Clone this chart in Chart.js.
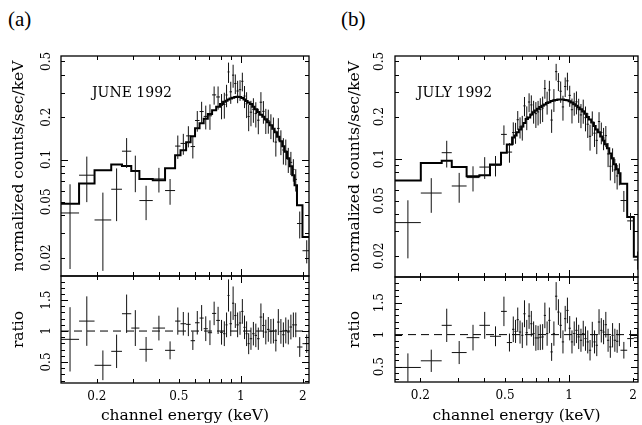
<!DOCTYPE html>
<html lang="en">
<head>
<meta charset="UTF-8">
<title>Spectra, June and July 1992</title>
<script src="https://cdn.jsdelivr.net/npm/chart.js@4.4.1/dist/chart.umd.min.js"></script>
<style>
  html, body { margin: 0; padding: 0; background: #fff; }
  #wrap { position: relative; width: 642px; height: 425px; overflow: hidden; }
  #wrap canvas { position: absolute; }
  .tag { position: absolute; font-family: "Liberation Serif", serif; font-size: 21px; line-height: 1; color: #000; }
</style>
</head>
<body>
<div id="wrap">
  <div class="tag" style="left:8px;top:9px">(a)</div>
  <div class="tag" style="left:341px;top:9px">(b)</div>
  <canvas id="specA" width="320" height="280" style="left:0;top:0"></canvas>
  <canvas id="ratioA" width="320" height="155" style="left:0;top:270px"></canvas>
  <canvas id="specB" width="308" height="280" style="left:334px;top:0"></canvas>
  <canvas id="ratioB" width="308" height="155" style="left:334px;top:270px"></canvas>
</div>

<script>
// ---- June 1992 (a): bin edges (keV), model, counts, ratio ----
const edgesA = [0.134, 0.164, 0.195, 0.235, 0.265, 0.294, 0.322, 0.374, 0.429, 0.480,
  0.510, 0.543, 0.571, 0.600, 0.631, 0.661, 0.692, 0.726, 0.760, 0.793,
  0.821, 0.844, 0.863, 0.882, 0.907, 0.930, 0.953, 0.979, 1.006, 1.031,
  1.056, 1.080, 1.106, 1.137, 1.168, 1.200, 1.235, 1.272, 1.306, 1.342,
  1.381, 1.422, 1.461, 1.501, 1.545, 1.590, 1.633, 1.678, 1.727, 1.778,
  1.826, 1.876, 1.995, 2.194];
const modelA = [0.0485, 0.0674, 0.0839, 0.0921, 0.0899, 0.0829, 0.0727, 0.0712, 0.0867,
  0.1073, 0.1165, 0.1329, 0.1466, 0.1672, 0.1815, 0.1954, 0.2105, 0.2246, 0.2380,
  0.2480, 0.2583, 0.2618, 0.2670, 0.2714, 0.2750, 0.2782, 0.2796, 0.2782, 0.2737,
  0.2670, 0.2605, 0.2542, 0.2480, 0.2380, 0.2284, 0.2175, 0.2087, 0.2020, 0.1938,
  0.1845, 0.1757, 0.1658, 0.1566, 0.1454, 0.1351, 0.1244, 0.1137, 0.1022, 0.0896,
  0.0773, 0.0656, 0.0472, 0.0281];
const countsA = [0.0416, 0.0773, 0.0371, 0.0614, 0.1146, 0.0825, 0.0510, 0.0727, 0.0601,
  0.1246, 0.1302, 0.1473, 0.1237, 0.1896, 0.2196, 0.2028, 0.2048, 0.2886, 0.2789,
  0.2430, 0.2472, 0.2880, 0.4205, 0.3034, 0.3988, 0.3478, 0.3076, 0.3144, 0.3605,
  0.2830, 0.2493, 0.2023, 0.2172, 0.2278, 0.2124, 0.1905, 0.2559, 0.2202, 0.1907,
  0.1895, 0.1748, 0.1658, 0.1331, 0.1665, 0.1344, 0.1169, 0.1148, 0.1006, 0.0954,
  0.0850, 0.0722, 0.0350, 0.0224];
const countsErrA = [0.0250, 0.0276, 0.0210, 0.0250, 0.0275, 0.0240, 0.0140, 0.0145, 0.0125,
  0.0236, 0.0221, 0.0253, 0.0220, 0.0318, 0.0381, 0.0391, 0.0421, 0.0427, 0.0524,
  0.0496, 0.0517, 0.0524, 0.0694, 0.0543, 0.0743, 0.0556, 0.0559, 0.0529, 0.0547,
  0.0507, 0.0521, 0.0432, 0.0446, 0.0452, 0.0434, 0.0392, 0.0459, 0.0404, 0.0388,
  0.0369, 0.0351, 0.0332, 0.0282, 0.0305, 0.0270, 0.0249, 0.0239, 0.0204, 0.0179,
  0.0155, 0.0131, 0.0076, 0.0042];
const ratioA = [0.866, 1.161, 0.446, 0.672, 1.280, 1.048, 0.704, 1.048, 0.688,
  1.161, 1.118, 1.108, 0.844, 1.134, 1.210, 1.038, 0.973, 1.285, 1.172,
  0.980, 0.957, 1.100, 1.575, 1.118, 1.450, 1.250, 1.100, 1.130, 1.317,
  1.060, 0.957, 0.796, 0.876, 0.957, 0.930, 0.876, 1.226, 1.090, 0.984,
  1.027, 0.995, 1.000, 0.850, 1.145, 0.995, 0.940, 1.010, 0.984, 1.065,
  1.100, 1.100, 0.742, 0.796];
const ratioErrA = [0.52, 0.40, 0.24, 0.27, 0.31, 0.29, 0.20, 0.20, 0.145,
  0.22, 0.19, 0.19, 0.15, 0.19, 0.21, 0.20, 0.20, 0.19, 0.22,
  0.20, 0.20, 0.20, 0.26, 0.20, 0.27, 0.20, 0.20, 0.19, 0.20,
  0.19, 0.20, 0.17, 0.18, 0.19, 0.19, 0.18, 0.22, 0.20, 0.20,
  0.20, 0.20, 0.20, 0.18, 0.21, 0.20, 0.20, 0.21, 0.20, 0.20,
  0.20, 0.20, 0.16, 0.15];

// ---- July 1992 (b) ----
const edgesB = [0.152, 0.201, 0.252, 0.281, 0.330, 0.379, 0.425, 0.479, 0.510, 0.540,
  0.554, 0.567, 0.581, 0.596, 0.610, 0.625, 0.641, 0.657, 0.673, 0.690,
  0.707, 0.724, 0.742, 0.761, 0.779, 0.799, 0.818, 0.839, 0.859, 0.881,
  0.902, 0.925, 0.948, 0.971, 0.995, 1.020, 1.045, 1.071, 1.097, 1.124,
  1.152, 1.181, 1.210, 1.240, 1.271, 1.302, 1.334, 1.367, 1.401, 1.436,
  1.471, 1.508, 1.545, 1.583, 1.622, 1.663, 1.704, 1.746, 1.877, 2.017,
  2.193];
const modelB = [0.0698, 0.0930, 0.0967, 0.0870, 0.0746, 0.0759, 0.0906, 0.1104, 0.1266,
  0.1422, 0.1470, 0.1545, 0.1623, 0.1706, 0.1807, 0.1931, 0.1980, 0.2080, 0.2160,
  0.2222, 0.2286, 0.2347, 0.2398, 0.2454, 0.2511, 0.2549, 0.2596, 0.2622, 0.2639,
  0.2657, 0.2666, 0.2657, 0.2644, 0.2630, 0.2591, 0.2536, 0.2466, 0.2401, 0.2335,
  0.2262, 0.2185, 0.2101, 0.1996, 0.1915, 0.1822, 0.1720, 0.1623, 0.1545, 0.1446,
  0.1353, 0.1267, 0.1186, 0.1091, 0.1005, 0.0910, 0.0838, 0.0784,
  0.0661, 0.0381, 0.0197];
const countsB = [0.0347, 0.0566, 0.1104, 0.0636, 0.0731, 0.0870, 0.0895, 0.1494, 0.1115,
  0.1540, 0.1544, 0.1905, 0.1688, 0.1689, 0.2396, 0.1989, 0.2554, 0.2434, 0.2195,
  0.2106, 0.2167, 0.2251, 0.2312, 0.3190, 0.2551, 0.3117, 0.1895, 0.2664, 0.4222,
  0.3592, 0.3053, 0.2354, 0.3302, 0.3624, 0.2850, 0.2247, 0.2505, 0.2562, 0.2251,
  0.2063, 0.2220, 0.1971, 0.1768, 0.1448, 0.1822, 0.1524, 0.1354, 0.1849, 0.1543,
  0.1407, 0.1463, 0.1082, 0.0882, 0.0995, 0.0830, 0.0751, 0.0784,
  0.0500, 0.0357, 0.0187];
const countsErrB = [0.0155, 0.0158, 0.0240, 0.0154, 0.0150, 0.0155, 0.0150, 0.0240, 0.0180,
  0.0284, 0.0265, 0.0294, 0.0292, 0.0341, 0.0379, 0.0386, 0.0396, 0.0416, 0.0410,
  0.0444, 0.0434, 0.0469, 0.0480, 0.0491, 0.0477, 0.0510, 0.0363, 0.0498, 0.0581,
  0.0531, 0.0533, 0.0478, 0.0529, 0.0526, 0.0492, 0.0456, 0.0469, 0.0480, 0.0444,
  0.0407, 0.0437, 0.0399, 0.0359, 0.0306, 0.0364, 0.0310, 0.0276, 0.0309, 0.0275,
  0.0257, 0.0253, 0.0213, 0.0185, 0.0191, 0.0164, 0.0151, 0.0141,
  0.0086, 0.0050, 0.0028];
const ratioB = [0.487, 0.591, 1.145, 0.720, 0.953, 1.145, 0.974, 1.363, 0.876,
  1.083, 1.050, 1.233, 1.040, 0.990, 1.326, 1.030, 1.290, 1.170, 1.016,
  0.948, 0.948, 0.959, 0.964, 1.300, 1.016, 1.223, 0.730, 1.016, 1.600,
  1.352, 1.145, 0.886, 1.249, 1.378, 1.100, 0.886, 1.016, 1.067, 0.964,
  0.912, 1.016, 0.938, 0.886, 0.756, 1.000, 0.886, 0.834, 1.197, 1.067,
  1.040, 1.155, 0.912, 0.808, 0.990, 0.912, 0.896, 1.000,
  0.756, 0.938, 0.950];
const ratioErrB = [0.22, 0.174, 0.26, 0.18, 0.20, 0.21, 0.155, 0.23, 0.14,
  0.20, 0.18, 0.19, 0.18, 0.20, 0.21, 0.20, 0.20, 0.20, 0.19,
  0.20, 0.19, 0.20, 0.20, 0.20, 0.19, 0.20, 0.14, 0.19, 0.22,
  0.20, 0.20, 0.18, 0.20, 0.20, 0.19, 0.18, 0.19, 0.20, 0.19,
  0.18, 0.20, 0.19, 0.18, 0.16, 0.20, 0.18, 0.17, 0.20, 0.19,
  0.19, 0.20, 0.18, 0.17, 0.19, 0.18, 0.18, 0.18,
  0.13, 0.13, 0.14];

// axis labels and tick marks
const energyLabels = [0.2, 0.5, 1, 2];
const countLabels = [0.02, 0.05, 0.1, 0.2, 0.5];
const ratioLabels = [0.5, 1, 1.5];
const energyMinor = [0.2, 0.3, 0.4, 0.5, 0.6, 0.7, 0.8, 0.9, 2];
const energyMajor = [1];
const countMinor = [0.02, 0.03, 0.04, 0.05, 0.06, 0.07, 0.08, 0.09, 0.2, 0.3, 0.4, 0.5];
const countMajor = [0.1];
const ratioMinor = [0.2, 0.3, 0.4, 0.6, 0.7, 0.8, 0.9, 1.1, 1.2, 1.3, 1.4, 1.6, 1.7, 1.8];
const ratioMajor = [0.5, 1, 1.5];

const SERIF = '"DejaVu Serif", serif';

// error crosses as one broken line: bin width across, error up/down
function crosses(edges, vals, errs) {
  const pts = [];
  vals.forEach((v, i) => {
    const lo = edges[i], hi = edges[i + 1], c = Math.sqrt(lo * hi);
    pts.push({x: lo, y: v}, {x: hi, y: v}, {x: c, y: null},
      {x: c, y: Math.max(v - errs[i], 1e-4)}, {x: c, y: v + errs[i]}, {x: c, y: null});
  });
  return pts;
}

function steps(edges, vals) {
  const pts = vals.map((v, i) => ({x: edges[i], y: v}));
  pts.push({x: edges[edges.length - 1], y: vals[vals.length - 1]});
  return pts;
}

// ticks pointing inwards on all four sides + frame + panel label
const innerTicks = {
  id: 'innerTicks',
  afterDatasetsDraw(chart, args, o) {
    const {ctx, chartArea: a} = chart;
    const xs = chart.scales.x, ys = chart.scales.y;
    ctx.save();
    ctx.strokeStyle = '#000';
    ctx.lineWidth = 1;
    ctx.beginPath();
    const xt = (vals, len) => vals.forEach(v => {
      const px = Math.round(xs.getPixelForValue(v)) + 0.5;
      if (px < a.left || px > a.right) return;
      ctx.moveTo(px, a.top); ctx.lineTo(px, a.top + len);
      ctx.moveTo(px, a.bottom); ctx.lineTo(px, a.bottom - len);
    });
    const yt = (vals, len) => vals.forEach(v => {
      const py = Math.round(ys.getPixelForValue(v)) + 0.5;
      if (py < a.top || py > a.bottom) return;
      ctx.moveTo(a.left, py); ctx.lineTo(a.left + len, py);
      ctx.moveTo(a.right, py); ctx.lineTo(a.right - len, py);
    });
    xt(o.xMajor, 7); xt(o.xMinor, 4);
    yt(o.yMajor, 7); yt(o.yMinor, 4);
    ctx.stroke();
    ctx.lineWidth = 1.3;
    ctx.strokeRect(a.left, a.top, a.right - a.left, a.bottom - a.top);
    if (o.label) {
      ctx.font = '14px ' + SERIF;
      ctx.fillStyle = '#000';
      ctx.textBaseline = 'alphabetic';
      ctx.fillText(o.label, a.left + o.labelDx, a.top + o.labelDy);
    }
    ctx.restore();
  }
};

function yAxis(type, min, max, labels, title, labelPad, titlePad) {
  return {
    type: type, min: min, max: max, position: 'left',
    afterBuildTicks: s => { s.ticks = labels.map(v => ({value: v})); },
    afterFit: s => { s.width = 61; s.paddingTop = 0; s.paddingBottom = 0; },
    grid: {display: false, drawTicks: false},
    border: {display: false},
    ticks: {
      autoSkip: false, minRotation: 90, maxRotation: 90, crossAlign: 'center',
      padding: labelPad, color: '#000', font: {family: SERIF, size: 12},
      callback: v => String(v)
    },
    title: {display: true, text: title, color: '#000',
      font: {family: SERIF, size: 15.5, lineHeight: 1.2}, padding: {top: titlePad, bottom: 0}}
  };
}

function xAxis(min, max, show, h) {
  return {
    type: 'logarithmic', min: min, max: max, display: show, position: 'bottom',
    afterBuildTicks: s => { s.ticks = energyLabels.map(v => ({value: v})); },
    afterFit: s => { s.height = h; s.paddingLeft = 0; s.paddingRight = 0; },
    grid: {display: false, drawTicks: false},
    border: {display: false},
    ticks: {autoSkip: false, maxRotation: 0, padding: 7, color: '#000',
      font: {family: SERIF, size: 12}, callback: v => String(v)},
    title: {display: true, text: 'channel energy (keV)', color: '#000',
      font: {family: SERIF, size: 15.5, lineHeight: 1.2}, padding: {top: 0, bottom: 0}}
  };
}

function baseOptions(padding, scales, tickOpts) {
  return {
    responsive: false, animation: false, devicePixelRatio: 1,
    layout: {padding: padding},
    elements: {point: {radius: 0}, line: {tension: 0}},
    plugins: {legend: {display: false}, tooltip: {enabled: false}, innerTicks: tickOpts},
    scales: scales
  };
}

function spectrumChart(id, edges, model, counts, errs, xr, yr, pad, label, lblDx, tp, lp) {
  new Chart(document.getElementById(id), {
    type: 'line',
    data: {datasets: [
      {data: crosses(edges, counts, errs), borderColor: '#111', borderWidth: 1},
      {data: steps(edges, model), stepped: 'before', borderColor: '#000', borderWidth: 2}
    ]},
    options: baseOptions(pad, {
      x: xAxis(xr[0], xr[1], false, 0),
      y: yAxis('logarithmic', yr[0], yr[1], countLabels, 'normalized counts/sec/keV', lp, tp)
    }, {xMajor: energyMajor, xMinor: energyMinor, yMajor: countMajor, yMinor: countMinor,
        label: label, labelDx: lblDx, labelDy: 41}),
    plugins: [innerTicks]
  });
}

function ratioChart(id, edges, ratio, errs, xr, yr, pad, xh, tp, lp) {
  new Chart(document.getElementById(id), {
    type: 'line',
    data: {datasets: [
      {data: crosses(edges, ratio, errs), borderColor: '#111', borderWidth: 1},
      {data: [{x: xr[0], y: 1}, {x: xr[1], y: 1}], borderColor: '#000', borderWidth: 1, borderDash: [8, 5]}
    ]},
    options: baseOptions(pad, {
      x: xAxis(xr[0], xr[1], true, xh),
      y: yAxis('linear', yr[0], yr[1], ratioLabels, 'ratio', lp, tp)
    }, {xMajor: energyMajor, xMinor: energyMinor, yMajor: ratioMajor, yMinor: ratioMinor}),
    plugins: [innerTicks]
  });
}

spectrumChart('specA', edgesA, modelA, countsA, countsErrA, [0.134, 2.146], [0.0148, 0.546],
  {top: 56, right: 11, bottom: 4, left: 0}, 'JUNE 1992', 31, 9.4, 1);
ratioChart('ratioA', edgesA, ratioA, ratioErrA, [0.134, 2.146], [0.16, 1.89],
  {top: 6, right: 11, bottom: 0, left: 0}, 42, 9.4, 5);
spectrumChart('specB', edgesB, modelB, countsB, countsErrB, [0.152, 2.11], [0.0141, 0.547],
  {top: 56, right: 4, bottom: 3, left: 0}, 'JULY 1992', 22, 12, 1.6);
ratioChart('ratioB', edgesB, ratioB, ratioErrB, [0.152, 2.11], [0.26, 1.90],
  {top: 7, right: 4, bottom: 0, left: 0}, 43, 12, 5.5);
</script>
</body>
</html>
